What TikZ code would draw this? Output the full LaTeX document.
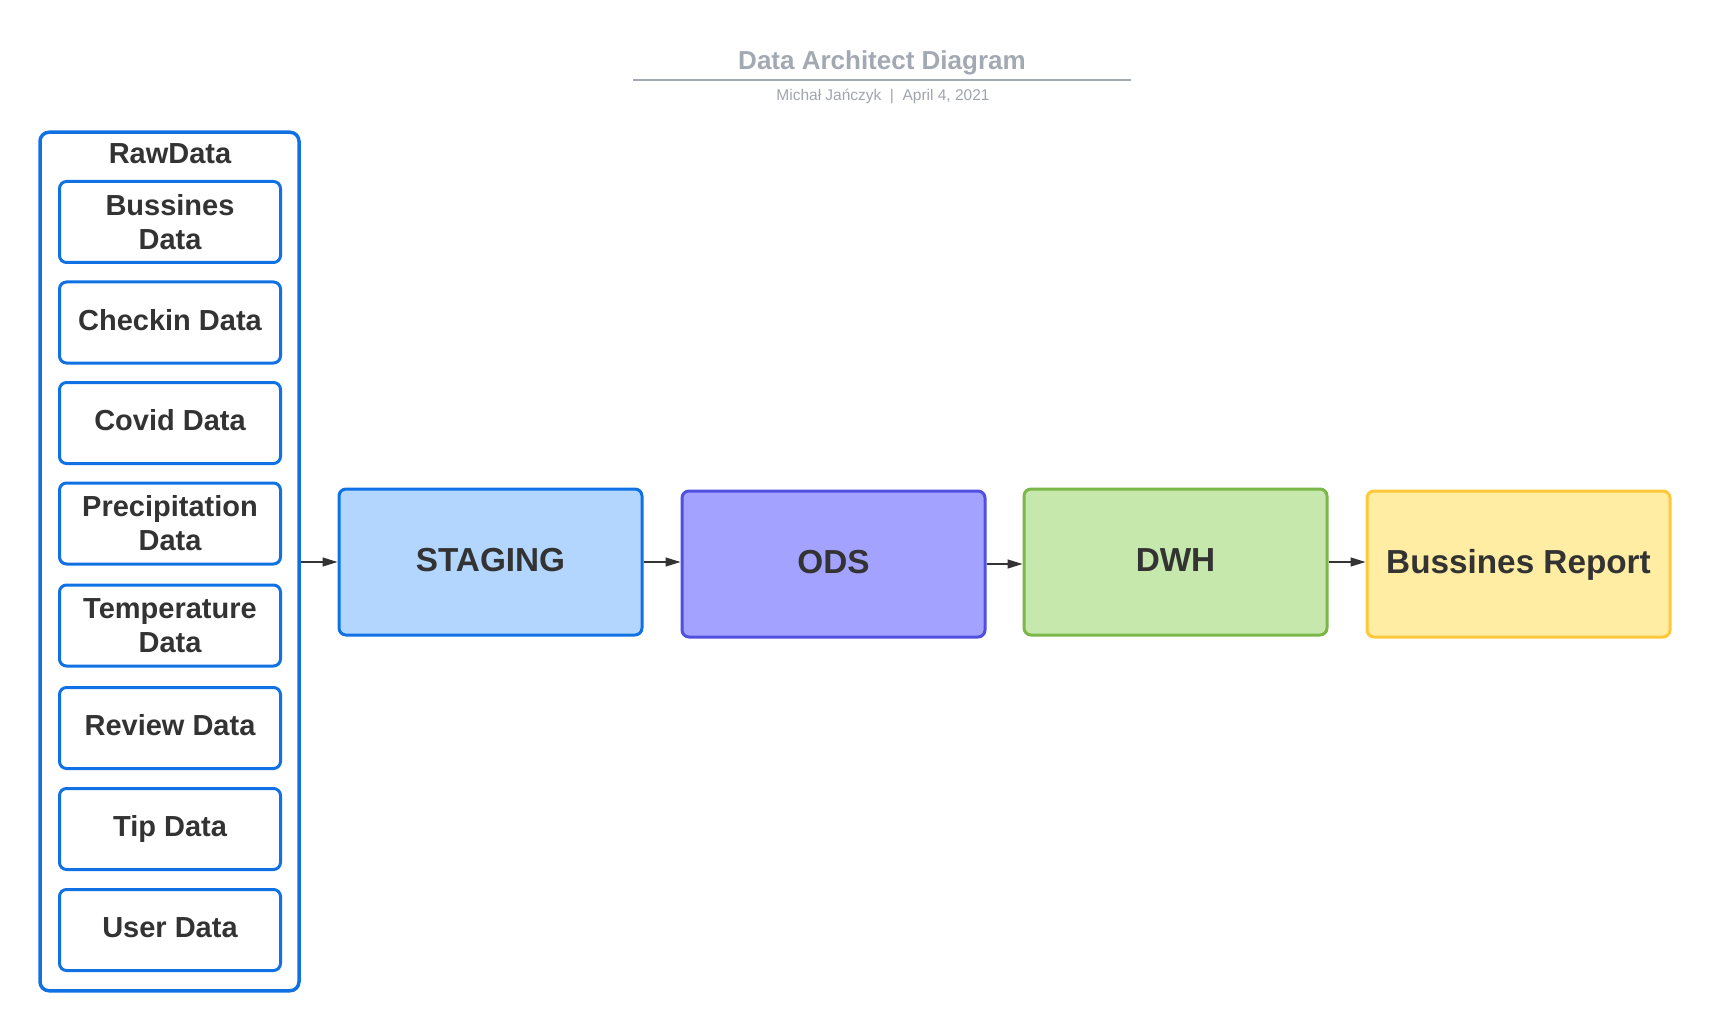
\documentclass[tikz,border=0pt]{standalone}
\usepackage{fontspec}
\setmainfont{Liberation Sans}
\usetikzlibrary{arrows.meta}
\definecolor{txt}{HTML}{333333}
\definecolor{titlegrey}{HTML}{A3A9B3}
\definecolor{subgrey}{HTML}{A0A4AB}
\definecolor{bluestroke}{HTML}{1071E5}
\definecolor{bluefill}{HTML}{B3D6FF}
\definecolor{purplestroke}{HTML}{4F4FE0}
\definecolor{purplefill}{HTML}{A3A3FF}
\definecolor{greenstroke}{HTML}{7AB648}
\definecolor{greenfill}{HTML}{C7E8AC}
\definecolor{yellowstroke}{HTML}{FFC838}
\definecolor{yellowfill}{HTML}{FFEDA3}
\tikzset{
  rawbox/.style={draw=bluestroke, line width=3pt, rounded corners=7pt, fill=white,
    minimum width=221pt, minimum height=81pt, inner sep=0pt, align=center,
    text=txt, font=\bfseries\fontsize{29}{34}\selectfont},
  oneline/.style={text height=21.5pt, text depth=6.5pt},
  outerbox/.style={draw=bluestroke, line width=3.5pt, rounded corners=9pt,
    minimum width=259pt, minimum height=858.5pt, inner sep=0pt},
  stagebox/.style={line width=3pt, rounded corners=7pt,
    minimum width=303pt, minimum height=146pt, inner sep=0pt, align=center,
    text=txt, font=\bfseries\fontsize{33.3}{39}\selectfont,
    text height=25pt, text depth=6.5pt},
  flow/.style={draw=txt, line width=1.3pt, -{Triangle[length=15pt,width=9pt]}}
}
\begin{document}
\begin{tikzpicture}[x=1pt,y=-1pt]
\useasboundingbox (0,0) rectangle (1710,1032);
% title
\node[text=titlegrey, font=\bfseries\fontsize{26}{30}\selectfont] (title) at (882,63) {Data Architect Diagram};
\draw[titlegrey, line width=2pt] (633,80) coordinate (tl) -- (1131,80) coordinate (tr);
\node[text=subgrey, font=\fontsize{15.5}{18}\selectfont] (sub) at (883,96) {Michał Jańczyk\hspace{0.55em}|\hspace{0.55em}April 4, 2021};
% raw data container
\node[outerbox] (raw) at (169.5,561.5) {};
\node[text=txt, font=\bfseries\fontsize{29}{34}\selectfont] (rawlbl) at (170,154) {RawData};
\node[rawbox] (r1) at (170,222) {Bussines\\Data};
\node[rawbox, oneline] (r2) at (170,322.5) {Checkin Data};
\node[rawbox, oneline] (r3) at (170,423) {Covid Data};
\node[rawbox] (r4) at (170,523.5) {Precipitation\\Data};
\node[rawbox] (r5) at (170,625.5) {Temperature\\Data};
\node[rawbox, oneline] (r6) at (170,728) {Review Data};
\node[rawbox, oneline] (r7) at (170,829) {Tip Data};
\node[rawbox, oneline] (r8) at (170,930) {User Data};
% pipeline
\node[stagebox, draw=bluestroke, fill=bluefill] (stg) at (490.5,562) {STAGING};
\node[stagebox, draw=purplestroke, fill=purplefill] (ods) at (833.5,564) {ODS};
\node[stagebox, draw=greenstroke, fill=greenfill] (dwh) at (1175.5,562) {DWH};
\node[stagebox, draw=yellowstroke, fill=yellowfill] (rep) at (1518.5,564) {Bussines Report};
% connectors
\draw[flow] (raw.east |- stg.west) -- (stg.west);
\draw[flow] (stg.east) -- (stg.east -| ods.west);
\draw[flow] (ods.east) -- (ods.east -| dwh.west);
\draw[flow] (dwh.east) -- (dwh.east -| rep.west);
\end{tikzpicture}
\end{document}
